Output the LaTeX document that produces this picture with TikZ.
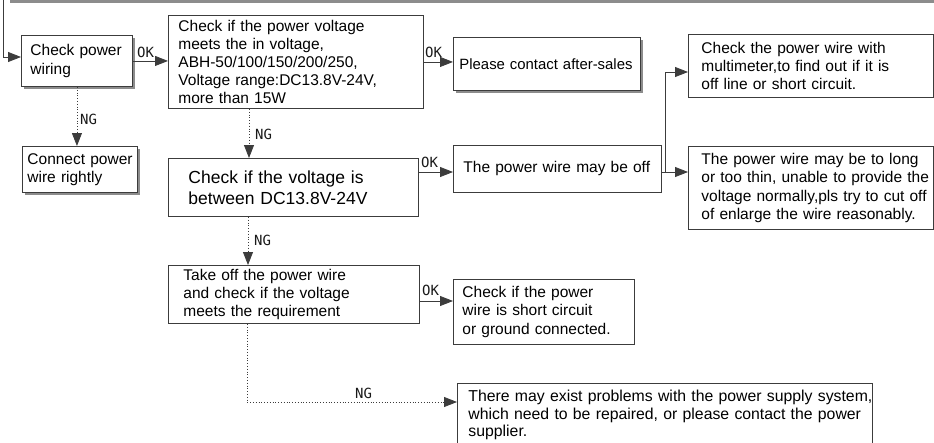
\documentclass[tikz,border=0pt]{standalone}
\usepackage{fontspec}
\setmainfont{Liberation Sans}
\newfontfamily\lblfont{DejaVu Sans Mono}
\usetikzlibrary{arrows.meta,shadows,calc}
\definecolor{linec}{HTML}{3C3C3C}
\definecolor{shadc}{HTML}{8C8C8C}
\begin{document}
\begin{tikzpicture}[x=1pt,y=-1pt,
  box/.style={draw=linec, line width=0.9pt, fill=white, rectangle, anchor=north west,
    align=left, inner ysep=0pt, font=\fontsize{15.5}{18.2}\selectfont},
  shad/.style={drop shadow={shadow xshift=3pt,shadow yshift=-3pt,fill=shadc,opacity=1}},
  arr/.style={draw=linec, line width=0.8pt, -{Triangle[length=13pt,width=10pt]}},
  dotarr/.style={arr, dotted},
  plain/.style={draw=linec, line width=0.8pt},
  lbl/.style={font=\lblfont\fontsize{14}{14}\selectfont, inner sep=0pt, anchor=base west, text=black!90}
]
\clip (0,0) rectangle (934,442);
\fill[shadc] (10,0) rectangle (934,2.7);
\coordinate (topin) at (3.5,0);

% boxes
\node[box, shad, text width=93pt, inner xsep=9pt, minimum height=51pt] (b1) at (21,35)
  {\mbox{Check power}\\wiring};
\node[box, text width=235pt, inner xsep=10pt, minimum height=93pt] (b2) at (168,15)
  {\mbox{Check if the power voltage}\\\mbox{meets the in voltage,}\\\mbox{ABH-50/100/150/200/250,}\\\mbox{Voltage range:DC13.8V-24V,}\\\mbox{more than 15W}};
\node[box, shad, text width=175pt, inner xsep=6pt, minimum height=53pt, font=\fontsize{14.9}{18}\selectfont] (contact) at (453,37)
  {\mbox{Please contact after-sales}};
\node[box, text width=219pt, inner xsep=13pt, minimum height=63pt] (multi) at (688,34)
  {\mbox{Check the power wire with}\\\mbox{multimeter,to find out if it is}\\\mbox{off line or short circuit.}};
\node[box, text width=188pt, inner xsep=10pt, minimum height=47pt] (mayoff) at (453,145)
  {\mbox{The power wire may be off}};
\node[box, text width=219pt, inner xsep=13pt, minimum height=83pt] (wire) at (688,146)
  {\mbox{The power wire may be to long}\\\mbox{or too thin, unable to provide the}\\\mbox{voltage normally,pls try to cut off}\\\mbox{of enlarge the wire reasonably.}};
\node[box, shad, text width=105pt, inner xsep=5pt, minimum height=46pt] (connect) at (22,146)
  {\mbox{Connect power}\\\mbox{wire rightly}};
\node[box, text width=210pt, inner xsep=20pt, minimum height=58pt, font=\fontsize{17.5}{21}\selectfont] (checkv) at (168,158)
  {\mbox{Check if the voltage is}\\\mbox{between DC13.8V-24V}};
\node[box, text width=221pt, inner xsep=15pt, minimum height=58pt] (takeoff) at (168,265)
  {\mbox{Take off the power wire}\\\mbox{and check if the voltage}\\\mbox{meets the requirement}};
\node[box, text width=163pt, inner xsep=9pt, minimum height=65pt] (shortc) at (453,279)
  {\mbox{Check if the power}\\\mbox{wire is short circuit}\\\mbox{or ground connected.}};
\node[box, text width=393pt, inner xsep=11pt, inner ysep=3pt, minimum height=63pt, font=\fontsize{15.8}{17.2}\selectfont] (problem) at (457,383)
  {\mbox{There may exist problems with the power supply system,}\\\mbox{which need to be repaired, or please contact the power}\\\mbox{supplier.}};

% connectors
\draw[arr] (topin) |- ($(b1.north west)+(0,22)$);
\draw[arr] (b1.east) -- (b1.east -| b2.west);
\draw[arr] (b2.east) -- (b2.east -| contact.west);
\draw[dotarr] (b1.south) -- (b1.south |- connect.north);
\draw[dotarr] ($(b2.south west)+(81,0)$) -- ($(checkv.north west)+(81,0)$);
\coordinate (mi) at ($(mayoff.north west)+(0,27)$);
\coordinate (mo) at ($(mayoff.north east)+(0,27)$);
\draw[arr] (mi -| checkv.east) -- (mi);
\coordinate (j) at ($(mo)+(3,0)$);
\draw[plain] (mo) -- (j);
\draw[arr] (j) |- ($(multi.north west)+(0,38)$);
\draw[arr] (mo) -- (mo -| wire.west);
\draw[dotarr] ($(checkv.south west)+(80,0)$) -- ($(takeoff.north west)+(80,0)$);
\draw[arr] ($(takeoff.north east)+(0,36)$) -- ($(shortc.north west)+(0,22)$);
\draw[dotarr] ($(takeoff.south west)+(79,0)$) |- ($(problem.north west)+(0,19)$);

% labels
\node[lbl] (ok1) at (137,57) {OK};
\node[lbl] (ok2) at (425,57) {OK};
\node[lbl] (ng1) at (80,124) {NG};
\node[lbl] (ng2) at (255,139) {NG};
\node[lbl] (ok3) at (421,167) {OK};
\node[lbl] (ng3) at (254,245) {NG};
\node[lbl] (ok4) at (422,295) {OK};
\node[lbl] (ng4) at (355,398) {NG};
\end{tikzpicture}
\end{document}
